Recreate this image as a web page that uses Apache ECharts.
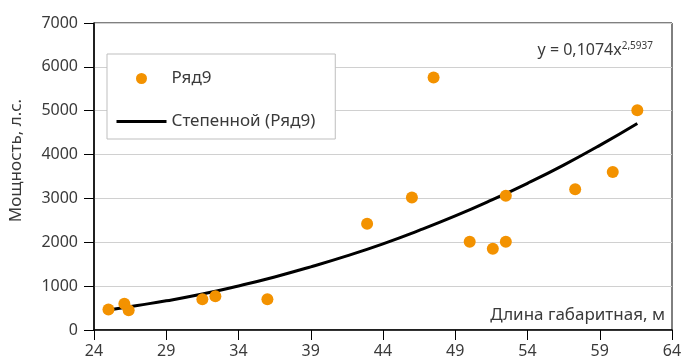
<!DOCTYPE html>
<html><head><meta charset="utf-8">
<script src="https://cdn.jsdelivr.net/npm/echarts@6/dist/echarts.min.js"></script>
<style>html,body{margin:0;padding:0;background:#fff}#c{width:694px;height:363px}</style>
</head><body><div id="c"></div>
<script>
// Scatter data: [length m, power hp]
const lengths = [25.0, 26.1, 26.4, 31.5, 32.4, 36.0, 42.9, 46.0, 47.5, 50.0, 51.6, 52.5, 52.5, 57.3, 59.9, 61.6];
const powers  = [470, 600, 450, 700, 770, 700, 2420, 3020, 5760, 2010, 1850, 2010, 3060, 3210, 3600, 5010];
// Power trendline
const trendX = [25, 27, 29, 31.5, 34, 36.5, 39, 41.5, 44, 46.5, 49, 51.5, 54, 56.5, 59, 61.6];
const trendY = [455, 560, 665, 820, 1005, 1210, 1440, 1690, 1965, 2270, 2600, 2960, 3345, 3760, 4210, 4710];
const xTicks = [24, 29, 34, 39, 44, 49, 54, 59, 64];
const yTicks = [0, 1000, 2000, 3000, 4000, 5000, 6000, 7000];
const seriesName = 'Ряд9';
const trendName = 'Степенной (Ряд9)';
const eqMain = 'y = 0,1074x';
const eqExp = '2,5937';

const font = 'Noto Sans';
const txt = '#3a3a3a';
const chart = echarts.init(document.getElementById('c'), null, {renderer: 'canvas'});
chart.setOption({
  animation: false,
  textStyle: {fontFamily: font},
  grid: {left: 93, right: 22, top: 23, bottom: 33, show: true, borderColor: '#000', borderWidth: 1, backgroundColor: 'transparent'},
  title: {
    text: '{a|' + eqMain + '}{b|' + eqExp + '}',
    right: 36, top: 36,
    textStyle: {fontWeight: 'normal', rich: {
      a: {fontFamily: font, fontSize: 16, fontWeight: 'normal', color: txt},
      b: {fontFamily: font, fontSize: 10, fontWeight: 'normal', color: txt, verticalAlign: 'top', padding: [0, 0, 8, 0]}
    }}
  },
  legend: {
    orient: 'vertical', left: 107, top: 54,
    padding: [16, 20, 9, 8],
    itemWidth: 50, itemHeight: 11, itemGap: 26,
    backgroundColor: '#fff', borderColor: '#bfbfbf', borderWidth: 1, borderRadius: 0,
    textStyle: {fontFamily: font, fontSize: 17, color: txt, lineHeight: 14},
    data: [
      {name: seriesName, icon: 'circle', itemStyle: {color: '#f39200', opacity: 1}},
      {name: trendName, itemStyle: {color: 'rgba(0,0,0,0)', borderWidth: 0, opacity: 0}, lineStyle: {color: '#000', width: 3}}
    ]
  },
  xAxis: {
    type: 'value', min: xTicks[0], max: xTicks[xTicks.length - 1], interval: 5,
    name: 'Длина габаритная, м', nameLocation: 'end', nameGap: -7,
    nameTextStyle: {fontFamily: font, fontSize: 17, color: txt, align: 'right', verticalAlign: 'bottom', padding: [0, 0, 6, 0]},
    axisLine: {show: true, lineStyle: {color: '#000', width: 1.5}},
    axisTick: {show: true, length: 10, lineStyle: {color: '#000', width: 1}},
    axisLabel: {fontFamily: font, fontSize: 16, color: txt, margin: 13},
    splitLine: {show: false}
  },
  yAxis: {
    type: 'value', min: yTicks[0], max: yTicks[yTicks.length - 1], interval: 1000,
    name: 'Мощность, л.с.', nameLocation: 'middle', nameGap: 69,
    nameTextStyle: {fontFamily: font, fontSize: 17, color: txt, padding: [0, 0, 0, 32]},
    axisLine: {show: true, lineStyle: {color: '#000', width: 1.5}},
    axisTick: {show: true, length: 10, lineStyle: {color: '#000', width: 1}},
    axisLabel: {fontFamily: font, fontSize: 16, color: txt, margin: 16, formatter: v => String(v)},
    splitLine: {show: true, lineStyle: {color: '#d0d0d0', width: 1}}
  },
  series: [
    {
      name: seriesName, type: 'scatter', symbol: 'circle', symbolSize: 12,
      itemStyle: {color: '#f39200', opacity: 1}, z: 3,
      data: lengths.map((x, i) => [x, powers[i]])
    },
    {
      name: trendName, type: 'line', smooth: true, showSymbol: false, symbol: 'none',
      lineStyle: {color: '#000', width: 3}, itemStyle: {color: '#000'}, z: 2,
      data: trendX.map((x, i) => [x, trendY[i]])
    }
  ]
});
</script></body></html>
